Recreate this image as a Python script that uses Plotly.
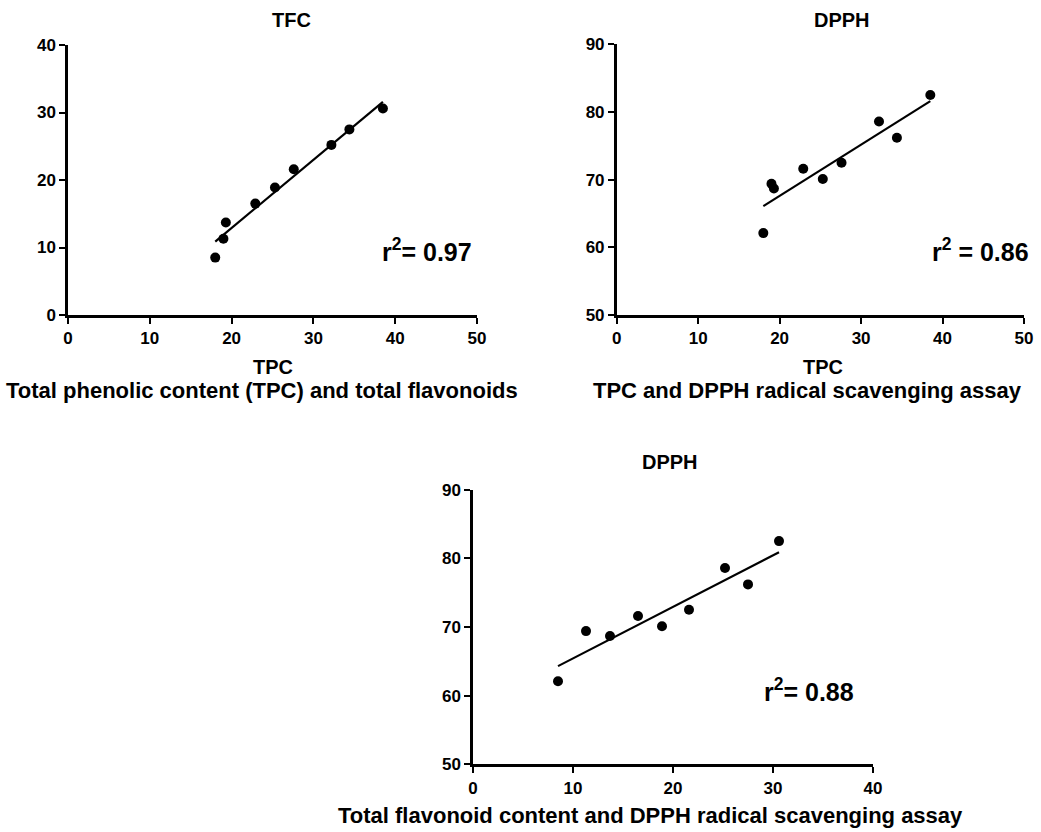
import numpy as np
import plotly.graph_objects as go

# Data
tpc = [18.0, 19.0, 19.3, 22.9, 25.3, 27.6, 32.2, 34.4, 38.5]
tfc = [8.5, 11.3, 13.7, 16.5, 18.9, 21.6, 25.2, 27.5, 30.6]
dpph = [62.1, 69.4, 68.7, 71.6, 70.1, 72.5, 78.6, 76.2, 82.5]

r2_labels = ["r<sup>2</sup>= 0.97", "r<sup>2</sup> = 0.86", "r<sup>2</sup>= 0.88"]
panel_titles = ["TFC", "DPPH", "DPPH"]
x_titles = ["TPC", "TPC"]
subtitles = [
    "Total phenolic content (TPC) and total flavonoids",
    "TPC and DPPH radical scavenging assay",
    "Total flavonoid content and DPPH radical scavenging assay",
]

W, H = 1041, 832
FONT = "Liberation Sans, Arial, Helvetica, sans-serif"


def px(x):
    return x / W


def py(y):
    return 1 - y / H


pairs = [(tpc, tfc), (tpc, dpph), (tfc, dpph)]
fig = go.Figure()
for i, (xs, ys) in enumerate(pairs):
    suffix = "" if i == 0 else str(i + 1)
    xs_a = np.array(xs)
    ys_a = np.array(ys)
    slope, icpt = np.polyfit(xs_a, ys_a, 1)
    xl = np.array([xs_a.min(), xs_a.max()])
    fig.add_trace(go.Scatter(x=xl, y=slope * xl + icpt, mode="lines",
                             line=dict(color="black", width=2.2),
                             xaxis="x" + suffix, yaxis="y" + suffix,
                             showlegend=False, hoverinfo="skip"))
    fig.add_trace(go.Scatter(x=xs, y=ys, mode="markers",
                             marker=dict(color="black", size=10),
                             xaxis="x" + suffix, yaxis="y" + suffix,
                             showlegend=False))

axis_common = dict(showline=True, linecolor="black", linewidth=2.5,
                   ticks="outside", ticklen=6, tickwidth=2, tickcolor="black",
                   showgrid=False, zeroline=False, dtick=10, tick0=0,
                   tickfont=dict(family=FONT, size=17, color="black", weight="bold"))

domains = [
    ([px(68), px(477)], [py(315), py(45)], [0, 50], [0, 40]),
    ([px(616.7), px(1024)], [py(315), py(44.3)], [0, 50], [50, 90]),
    ([px(473), px(873)], [py(764.4), py(489.6)], [0, 40], [50, 90]),
]
layout_axes = {}
for i, (dx, dy, xr, yr) in enumerate(domains):
    suffix = "" if i == 0 else str(i + 1)
    layout_axes["xaxis" + suffix] = dict(domain=dx, range=xr, anchor="y" + suffix, **axis_common)
    layout_axes["yaxis" + suffix] = dict(domain=dy, range=yr, anchor="x" + suffix, **axis_common)

annotations = []


def add_text(text, x, y, size):
    annotations.append(dict(text=text, x=px(x), y=py(y), xref="paper", yref="paper",
                            xanchor="center", yanchor="middle", showarrow=False,
                            font=dict(family=FONT, size=size, color="black", weight="bold")))


# panel titles
add_text(panel_titles[0], 291, 20, 20)
add_text(panel_titles[1], 842, 20, 20)
add_text(panel_titles[2], 670, 462, 20)
# x-axis titles
add_text(x_titles[0], 273, 367, 20)
add_text(x_titles[1], 823, 367, 20)
# subtitles
add_text(subtitles[0], 262, 390, 22)
add_text(subtitles[1], 807, 390, 22)
add_text(subtitles[2], 650, 815, 22)
# r^2 labels
add_text(r2_labels[0], 427, 250, 25)
add_text(r2_labels[1], 980, 250, 25)
add_text(r2_labels[2], 809, 690, 25)

fig.update_layout(width=W, height=H, paper_bgcolor="white", plot_bgcolor="white",
                  margin=dict(l=0, r=0, t=0, b=0, autoexpand=False),
                  annotations=annotations, **layout_axes)
fig.write_html("out.html", config={"displayModeBar": False},
               post_script="document.body.style.margin='0';document.body.style.overflow='hidden';")
